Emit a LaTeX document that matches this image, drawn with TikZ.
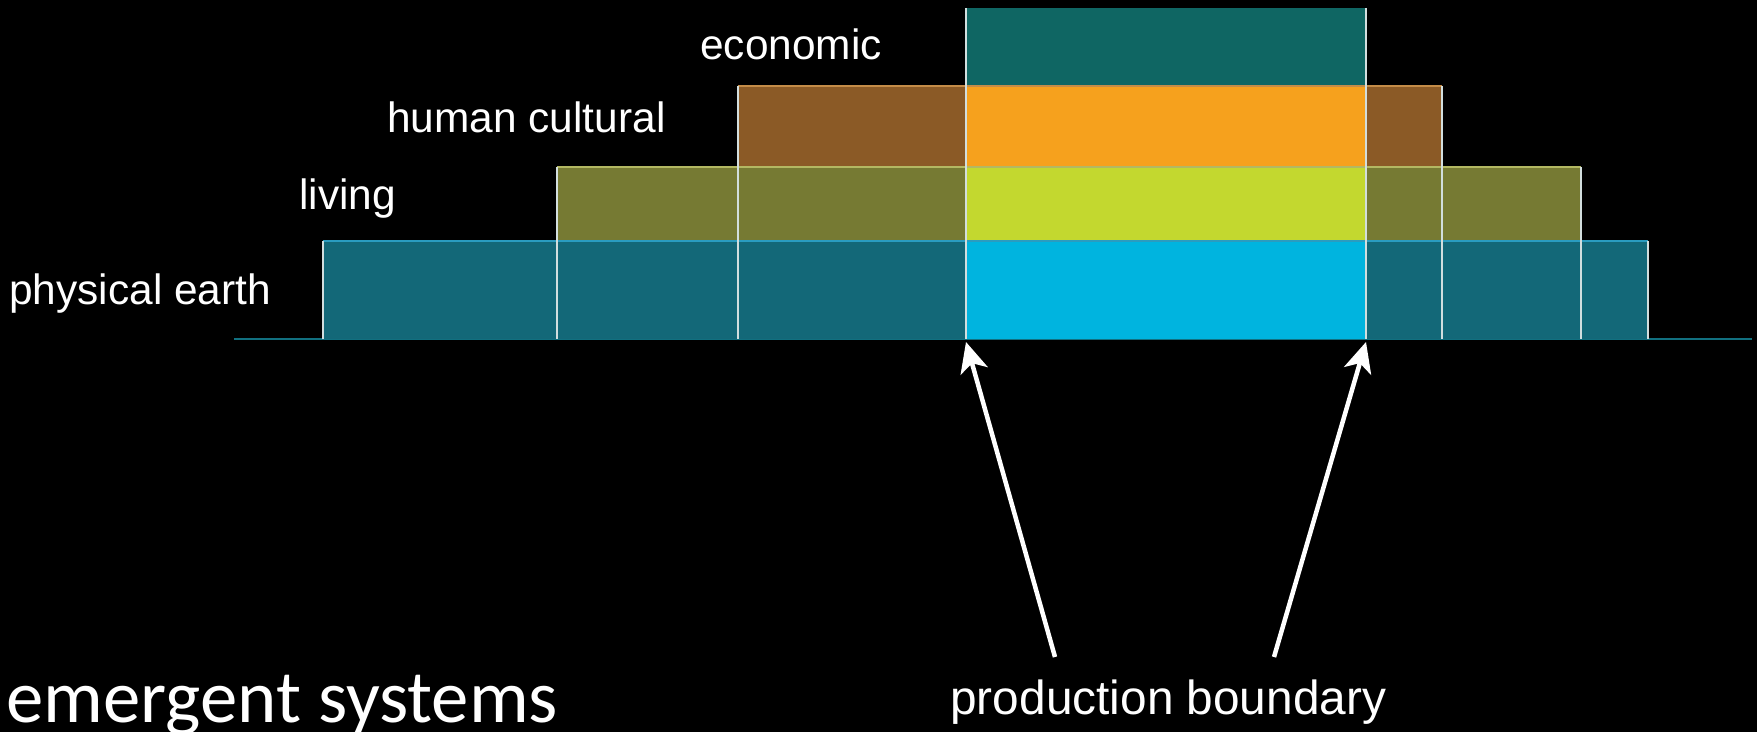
\documentclass[tikz,border=0pt]{standalone}
\usepackage{fontspec}
\setmainfont{Liberation Sans}
\newfontfamily\calib{Carlito}
\usetikzlibrary{arrows.meta}
\definecolor{physdim}{HTML}{136878}
\definecolor{physbright}{HTML}{00B4DF}
\definecolor{physedge}{HTML}{2A9CC0}
\definecolor{livdim}{HTML}{767A33}
\definecolor{livbright}{HTML}{C3D82F}
\definecolor{livedge}{HTML}{B3B862}
\definecolor{humdim}{HTML}{8B5A26}
\definecolor{humbright}{HTML}{F6A11D}
\definecolor{humedge}{HTML}{C48C48}
\definecolor{econ}{HTML}{0F6663}
\definecolor{baseln}{HTML}{117080}
\definecolor{vline}{HTML}{D2DEDE}
\begin{document}
\begin{tikzpicture}[x=0.5pt,y=-0.5pt,
  lab/.style={text=white,font=\fontsize{21.2}{25}\selectfont,inner sep=0pt,anchor=base west},
  edge/.style={line width=1pt,draw=vline},
  topedge/.style={line width=1.2pt},
  arr/.style={draw=white,line width=2.25pt,-{Stealth[length=15pt,width=14pt,inset=4pt]}}]
\fill[black] (0,0) rectangle (1757,732);
\useasboundingbox (0,0) rectangle (1757,732);
% baseline
\draw[baseln,line width=1.1pt] (234,339) -- (1752,339);
% physical earth band
\fill[physdim] (323,241) rectangle (1648,339);
\fill[physbright] (966,241) rectangle (1366,339);
% living band
\fill[livdim] (557,167) rectangle (1581,241);
\fill[livbright] (966,167) rectangle (1366,241);
% human cultural band
\fill[humdim] (738,86) rectangle (1442,167);
\fill[humbright] (966,86) rectangle (1366,167);
% economic band
\fill[econ] (966,8) rectangle (1366,86);
% top edges
\draw[topedge,physedge] (323,241) -- (1648,241);
\draw[topedge,livedge] (557,167) -- (1581,167);
\draw[topedge,humedge] (738,86) -- (1442,86);
% vertical edges
\draw[edge] (323,241) -- (323,339);
\draw[edge] (557,167) -- (557,339);
\draw[edge] (738,86) -- (738,339);
\draw[edge] (966,8) -- (966,339);
\draw[edge] (1366,8) -- (1366,339);
\draw[edge] (1442,86) -- (1442,339);
\draw[edge] (1581,167) -- (1581,339);
\draw[edge] (1648,241) -- (1648,339);
% labels
\node[lab] (econlab) at (700,60) {economic};
\node[lab] (humlab) at (387,133) {human cultural};
\node[lab] (livlab) at (299,210) {living};
\node[lab] (physlab) at (9,305) {physical earth};
\node[text=white,font=\fontsize{23.9}{28}\selectfont,inner sep=0pt,anchor=base west] (pb) at (950,714) {production boundary};
\node[text=white,font=\calib\fontsize{37.4}{40}\selectfont,inner sep=0pt,anchor=base west] (es) at (6,722) {emergent systems};
% arrows
\coordinate (t1) at (1055,657);
\coordinate (h1) at (966,342);
\coordinate (t2) at (1274,657);
\coordinate (h2) at (1366,342);
\draw[arr] (t1) -- (h1);
\draw[arr] (t2) -- (h2);
\end{tikzpicture}
\end{document}
